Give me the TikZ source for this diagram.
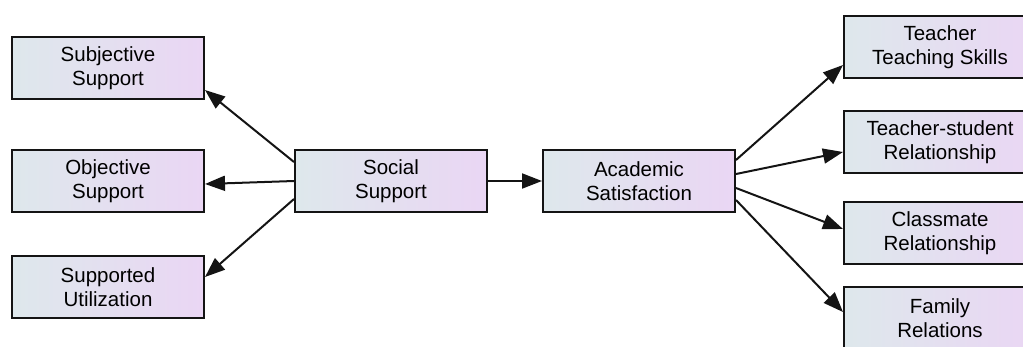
\documentclass[tikz,border=0pt]{standalone}
\usepackage{fontspec}
\setmainfont{Liberation Sans}
\usetikzlibrary{arrows.meta}
\definecolor{boxl}{RGB}{222,232,236}
\definecolor{boxr}{RGB}{234,214,244}
\definecolor{edge}{RGB}{20,20,20}
\tikzset{
  box/.style={draw=edge, line width=2pt, left color=boxl, right color=boxr,
    minimum width=192pt, minimum height=62pt, align=center, inner sep=0pt,
    font=\fontsize{20.5pt}{24.5pt}\selectfont},
  link/.style={draw=edge, line width=2pt, -{Triangle[length=20pt,width=15pt]}}
}
\begin{document}
\begin{tikzpicture}[x=1pt,y=-1pt]
\useasboundingbox (0,0) rectangle (1023,346);
\clip (0,0) rectangle (1023,346);
\node[box] (subj) at (108,68) {Subjective\\Support};
\node[box] (obj) at (108,181) {Objective\\Support};
\node[box] (sup) at (108,287) {Supported\\Utilization};
\node[box] (ss) at (391,181) {Social\\Support};
\node[box] (as) at (639,181) {Academic\\Satisfaction};
\node[box] (tts) at (940,47) {Teacher\\Teaching Skills};
\node[box] (tsr) at (940,142) {Teacher-student\\Relationship};
\node[box] (cr) at (940,233) {Classmate\\Relationship};
\node[box] (fr) at (940,318) {Family\\Relations};
\draw[link] ([yshift=19pt]ss.west) -- ([yshift=-22pt]subj.east);
\draw[link] (ss.west) -- ([yshift=-3pt]obj.east);
\draw[link] ([yshift=-18pt]ss.west) -- ([yshift=10pt]sup.east);
\draw[link] (ss.east) -- (as.west);
\draw[link] ([yshift=21pt]as.east) -- ([yshift=-18pt]tts.west);
\draw[link] ([yshift=7pt]as.east) -- ([yshift=-10pt]tsr.west);
\draw[link] ([yshift=-7pt]as.east) -- ([yshift=4pt]cr.west);
\draw[link] ([yshift=-19pt]as.east) -- ([yshift=6pt]fr.west);
\end{tikzpicture}
\end{document}
